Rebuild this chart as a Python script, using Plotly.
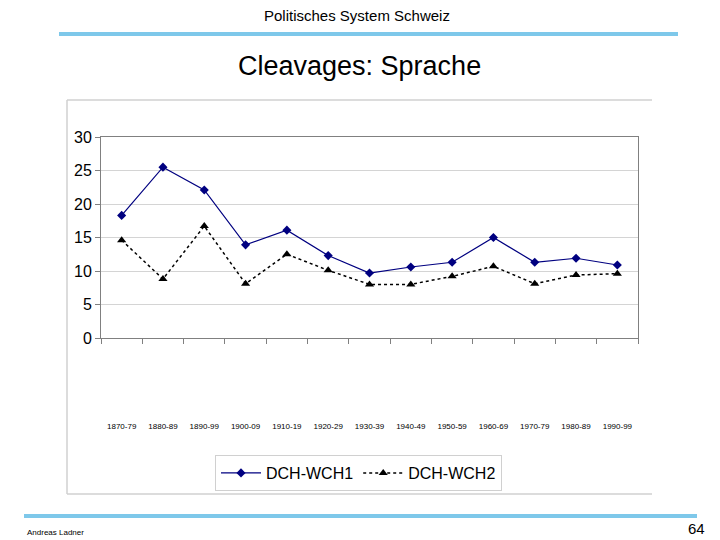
import plotly.graph_objects as go

# ---- data ----
periods = ["1870-79", "1880-89", "1890-99", "1900-09", "1910-19", "1920-29", "1930-39",
           "1940-49", "1950-59", "1960-69", "1970-79", "1980-89", "1990-99"]
dch_wch1 = [18.3, 25.5, 22.1, 13.9, 16.1, 12.3, 9.7, 10.6, 11.3, 15.0, 11.3, 11.9, 10.9]
dch_wch2 = [14.6, 8.8, 16.7, 8.1, 12.5, 10.1, 8.0, 8.0, 9.2, 10.7, 8.1, 9.4, 9.6]
y_ticks = [0, 5, 10, 15, 20, 25, 30]

# ---- layout geometry (pixels of 720x540 page; page body has an 8px margin) ----
OFF = 8
W, H = 720 - OFF, 540 - OFF
L, R, T, B = 101 - OFF, 638 - OFF, 137 - OFF, 338 - OFF


def px(x):
    return (x - OFF - L) / (R - L)


def py(y):
    return (B - (y - OFF)) / (B - T)


FONT = "Liberation Sans, Arial, sans-serif"

fig = go.Figure()
fig.add_trace(go.Scatter(
    x=periods, y=dch_wch1, name="DCH-WCH1", mode="lines+markers",
    line=dict(color="#000080", width=1.2),
    marker=dict(symbol="diamond", size=7, color="#000080"),
))
fig.add_trace(go.Scatter(
    x=periods, y=dch_wch2, name="DCH-WCH2", mode="lines+markers",
    line=dict(color="#000000", width=1.5, dash="dot"),
    marker=dict(symbol="triangle-up", size=8, color="#000000"),
))

shapes = [
    # header / footer blue rules
    dict(type="line", xref="paper", yref="paper", x0=px(59), x1=px(678), y0=py(34), y1=py(34),
         line=dict(color="#7EC8EA", width=4)),
    dict(type="line", xref="paper", yref="paper", x0=px(24), x1=px(697), y0=py(516), y1=py(516),
         line=dict(color="#7EC8EA", width=4)),
    # outer chart box (top, left, bottom)
    dict(type="line", xref="paper", yref="paper", x0=px(67), x1=px(652), y0=py(100), y1=py(100),
         line=dict(color="#D0D0D0", width=1.5)),
    dict(type="line", xref="paper", yref="paper", x0=px(67), x1=px(67), y0=py(100), y1=py(494),
         line=dict(color="#D0D0D0", width=1.5)),
    dict(type="line", xref="paper", yref="paper", x0=px(67), x1=px(652), y0=py(494), y1=py(494),
         line=dict(color="#D0D0D0", width=1.5)),
]

annotations = [
    dict(text="Politisches System Schweiz", xref="paper", yref="paper", x=px(357), y=py(15),
         showarrow=False, font=dict(family=FONT, size=15, color="#000000"),
         xanchor="center", yanchor="middle"),
    dict(text="Cleavages: Sprache", xref="paper", yref="paper", x=px(359), y=py(66),
         showarrow=False, font=dict(family=FONT, size=27, color="#000000"),
         xanchor="center", yanchor="middle"),
    dict(text="Andreas Ladner", xref="paper", yref="paper", x=px(25), y=py(532),
         showarrow=False, font=dict(family=FONT, size=8, color="#000000"),
         xanchor="left", yanchor="middle"),
    dict(text="64", xref="paper", yref="paper", x=px(707), y=py(528),
         showarrow=False, font=dict(family=FONT, size=15, color="#000000"),
         xanchor="right", yanchor="middle"),
]

fig.update_layout(
    width=W, height=H,
    margin=dict(l=L, r=W - R, t=T, b=H - B, pad=0),
    paper_bgcolor="white", plot_bgcolor="white",
    font=dict(family=FONT, color="#000000"),
    showlegend=True,
    legend=dict(orientation="h", x=px(215), y=py(455), xanchor="left", yanchor="top",
                bordercolor="#D0D0D0", borderwidth=1, bgcolor="white",
                font=dict(family=FONT, size=16), itemwidth=40),
    shapes=shapes,
    annotations=annotations,
)
fig.update_xaxes(
    type="category", range=[-0.5, len(periods) - 0.5], showgrid=False, showline=True,
    linecolor="#808080", linewidth=1, mirror=True, ticks="outside", tickson="boundaries",
    ticklen=5, tickcolor="#808080",
    tickfont=dict(family=FONT, size=8), tickangle=0, ticklabelstandoff=80,
)
fig.update_yaxes(
    range=[0, 30], tickvals=y_ticks, showgrid=True, gridcolor="#D4D4D4",
    showline=True, linecolor="#808080", linewidth=1, mirror=True,
    ticks="outside", ticklen=5, tickcolor="#808080",
    tickfont=dict(family=FONT, size=16), zeroline=False,
)

fig.write_html("out.html")
